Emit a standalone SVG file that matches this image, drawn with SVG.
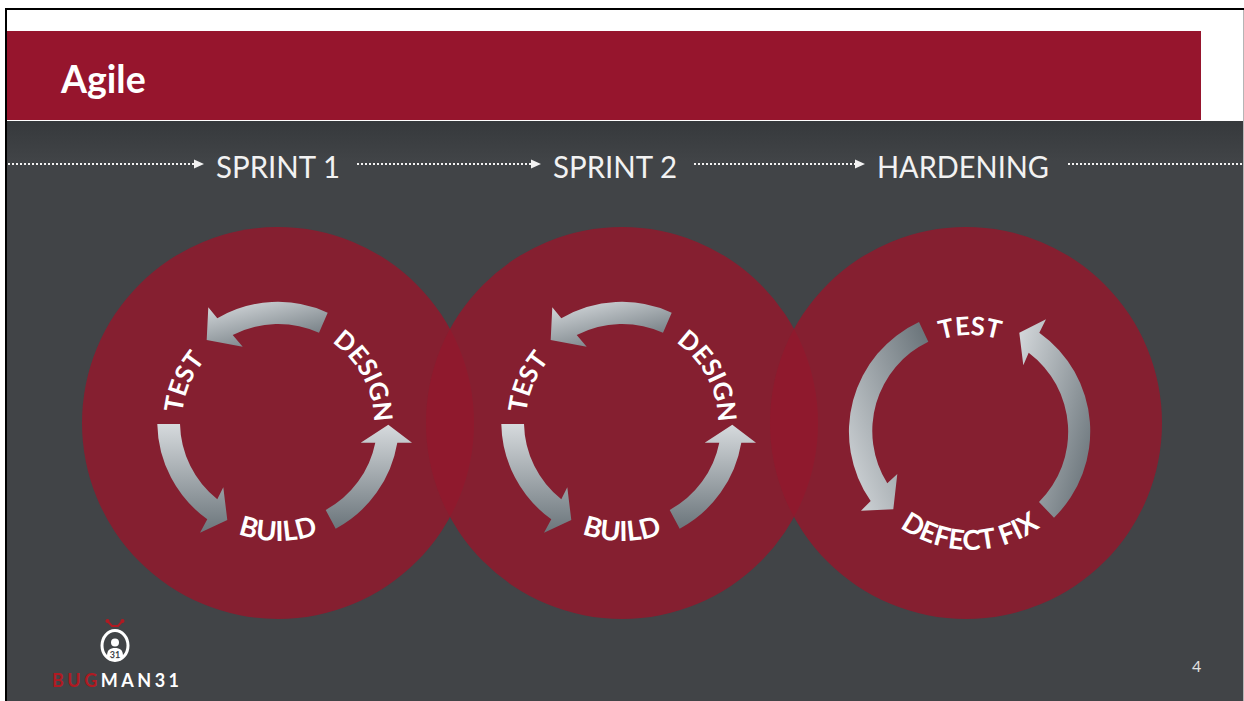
<svg xmlns="http://www.w3.org/2000/svg" xmlns:xlink="http://www.w3.org/1999/xlink" width="1244" height="701" viewBox="0 0 1244 701">
<style>
.lbl{font-family:"Lato","Liberation Sans",sans-serif;font-weight:700;font-size:27.5px;fill:#fff}
.lt{font-size:25.5px}
.hd{font-family:"Lato","Liberation Sans",sans-serif;font-size:30px;fill:#f2f2f2}
.dots{stroke:#f2f2f2;stroke-width:2;stroke-dasharray:2 2;fill:none}
.tip{fill:#f2f2f2}
.disc{fill:#91192d;fill-opacity:.853}
</style>
<defs>
<linearGradient id="gV" x1="0" y1="0" x2="0" y2="1"><stop offset="0" stop-color="#d6dadd"/><stop offset="1" stop-color="#6b757b"/></linearGradient>
<linearGradient id="gD" x1="0.1" y1="0" x2="0.75" y2="1"><stop offset="0" stop-color="#d6dadd"/><stop offset="1" stop-color="#6b757b"/></linearGradient>
<linearGradient id="gL" x1="0" y1="1" x2="1" y2="0.1"><stop offset="0" stop-color="#d6dadd"/><stop offset="1" stop-color="#6b757b"/></linearGradient>
<linearGradient id="gR" x1="0" y1="0" x2="1" y2="0.8"><stop offset="0" stop-color="#d6dadd"/><stop offset="1" stop-color="#6b757b"/></linearGradient>
<linearGradient id="shade" x1="0" y1="0" x2="0" y2="1"><stop offset="0" stop-color="#36393c"/><stop offset="1" stop-color="#414447"/></linearGradient>
<path id="top96" d="M-96 0A96 96 0 0 1 96 0"/>
<path id="bot119" d="M-119 0A119 119 0 0 0 119 0"/>
</defs>
<rect width="1244" height="701" fill="#fff"/>
<rect x="6" y="121" width="1237" height="580" fill="#414447"/>
<rect x="6" y="121" width="1237" height="40" fill="url(#shade)"/>
<rect x="7" y="31" width="1194" height="89" fill="#96152d"/>
<rect x="5" y="8" width="1239" height="2" fill="#000"/>
<rect x="5" y="8" width="2" height="693" fill="#000"/>
<rect x="1243" y="10" width="1" height="691" fill="#b5b5b5"/>
<text id="title" x="61" y="93" font-family="Lato,'Liberation Sans',sans-serif" font-weight="700" font-size="37.5" fill="#fff">Agile</text>
<g id="timeline">
<path class="dots" d="M8 164H194M357 164H531M694 164H855M1068 164H1244"/>
<path class="tip" d="M194 159.500L204 164L194 168.500ZM531 159.500L541 164L531 168.500ZM855 159.500L865 164L855 168.500Z"/>
<text class="hd" x="216" y="178" textLength="124" lengthAdjust="spacingAndGlyphs">SPRINT 1</text>
<text class="hd" x="553" y="178" textLength="124" lengthAdjust="spacingAndGlyphs">SPRINT 2</text>
<text class="hd" x="877" y="178" textLength="172" lengthAdjust="spacingAndGlyphs">HARDENING</text>
</g>
<g id="sprint1">
<circle class="disc" cx="278" cy="423" r="196"/>
<g transform="translate(278 422)">
<g transform="rotate(-67)"><text class="lbl lt"><textPath xlink:href="#top96" href="#top96" startOffset="50%" text-anchor="middle">TEST</textPath></text></g>
<g transform="rotate(62)"><text class="lbl lt"><textPath xlink:href="#top96" href="#top96" startOffset="50%" text-anchor="middle">DESIGN</textPath></text></g>
<text class="lbl"><textPath xlink:href="#bot119" href="#bot119" startOffset="50%" text-anchor="middle">BUILD</textPath></text>
</g>
</g>
<g id="sprint2">
<circle class="disc" cx="622" cy="423" r="196"/>
<g transform="translate(622 422)">
<g transform="rotate(-67)"><text class="lbl lt"><textPath xlink:href="#top96" href="#top96" startOffset="50%" text-anchor="middle">TEST</textPath></text></g>
<g transform="rotate(62)"><text class="lbl lt"><textPath xlink:href="#top96" href="#top96" startOffset="50%" text-anchor="middle">DESIGN</textPath></text></g>
<text class="lbl"><textPath xlink:href="#bot119" href="#bot119" startOffset="50%" text-anchor="middle">BUILD</textPath></text>
</g>
</g>
<g id="hardening">
<circle class="disc" cx="966" cy="423" r="196"/>
<g transform="translate(970 431)">
<text class="lbl lt"><textPath xlink:href="#top96" href="#top96" startOffset="50%" text-anchor="middle">TEST</textPath></text>
<text class="lbl"><textPath xlink:href="#bot119" href="#bot119" startOffset="50%" text-anchor="middle">DEFECT FIX</textPath></text>
</g>
</g>
<g id="connectors">
<g id="arrows-sprint1">
<path fill="url(#gD)" d="M327.700 312.700A120 120 0 0 0 217.300 318.300L208.300 307.300L206.700 340L242.700 346.700L232.700 335A99 99 0 0 1 319 332.700Z"/>
<path fill="url(#gV)" d="M157.300 424A120 120 0 0 0 207.300 519.300L200 532.700L227.300 520L223.300 487.300L217.300 499.300A99 99 0 0 1 180 424Z"/>
<path fill="url(#gV)" d="M335.700 528.700A120 120 0 0 0 397.300 442.700L412 442.700L388.300 424.700L360.700 442.700L375.300 442.700A99 99 0 0 1 325.700 510Z"/>
</g>
<g id="arrows-sprint2" transform="translate(344 0)">
<path fill="url(#gD)" d="M327.700 312.700A120 120 0 0 0 217.300 318.300L208.300 307.300L206.700 340L242.700 346.700L232.700 335A99 99 0 0 1 319 332.700Z"/>
<path fill="url(#gV)" d="M157.300 424A120 120 0 0 0 207.300 519.300L200 532.700L227.300 520L223.300 487.300L217.300 499.300A99 99 0 0 1 180 424Z"/>
<path fill="url(#gV)" d="M335.700 528.700A120 120 0 0 0 397.300 442.700L412 442.700L388.300 424.700L360.700 442.700L375.300 442.700A99 99 0 0 1 325.700 510Z"/>
</g>
<g id="arrows-hardening">
<path fill="url(#gL)" d="M919 322A121 121 0 0 0 870.700 501L861 510.700L893.300 509.300L897.300 474L887.300 483.300A99 99 0 0 1 928.300 341.700Z"/>
<path fill="url(#gR)" d="M1054 517.700A121 121 0 0 0 1039.300 332.700L1046 319.300L1019.300 332.700L1023.300 365.300L1028.700 352.700A99 99 0 0 1 1039 502Z"/>
</g>
</g>
<g id="logo">
<path d="M107.500 621L112 626H118L122.500 621" fill="none" stroke="#b01a22" stroke-width="2"/>
<circle cx="107.500" cy="621" r="2" fill="#b01a22"/><circle cx="122.500" cy="621" r="2" fill="#b01a22"/>
<ellipse cx="115" cy="645.500" rx="13" ry="15" fill="none" stroke="#fff" stroke-width="3"/>
<circle cx="115" cy="642.500" r="4" fill="#fff"/>
<path d="M107 656C107 650 110 648 115 648C120 648 123 650 123 656C120 660 110 660 107 656Z" fill="#fff"/>
<text x="115" y="657.500" text-anchor="middle" font-family="Lato,sans-serif" font-weight="700" font-size="9" fill="#414447">31</text>
<text x="52" y="687" font-family="Lato,'Liberation Sans',sans-serif" font-weight="700" font-size="18" letter-spacing="3.500" fill="#fff"><tspan fill="#b01a22">BUG</tspan>MAN31</text>
</g>
<text id="page" x="1192" y="672" font-family="Lato,'Liberation Sans',sans-serif" font-size="16" fill="#e0e0e0">4</text>
</svg>
